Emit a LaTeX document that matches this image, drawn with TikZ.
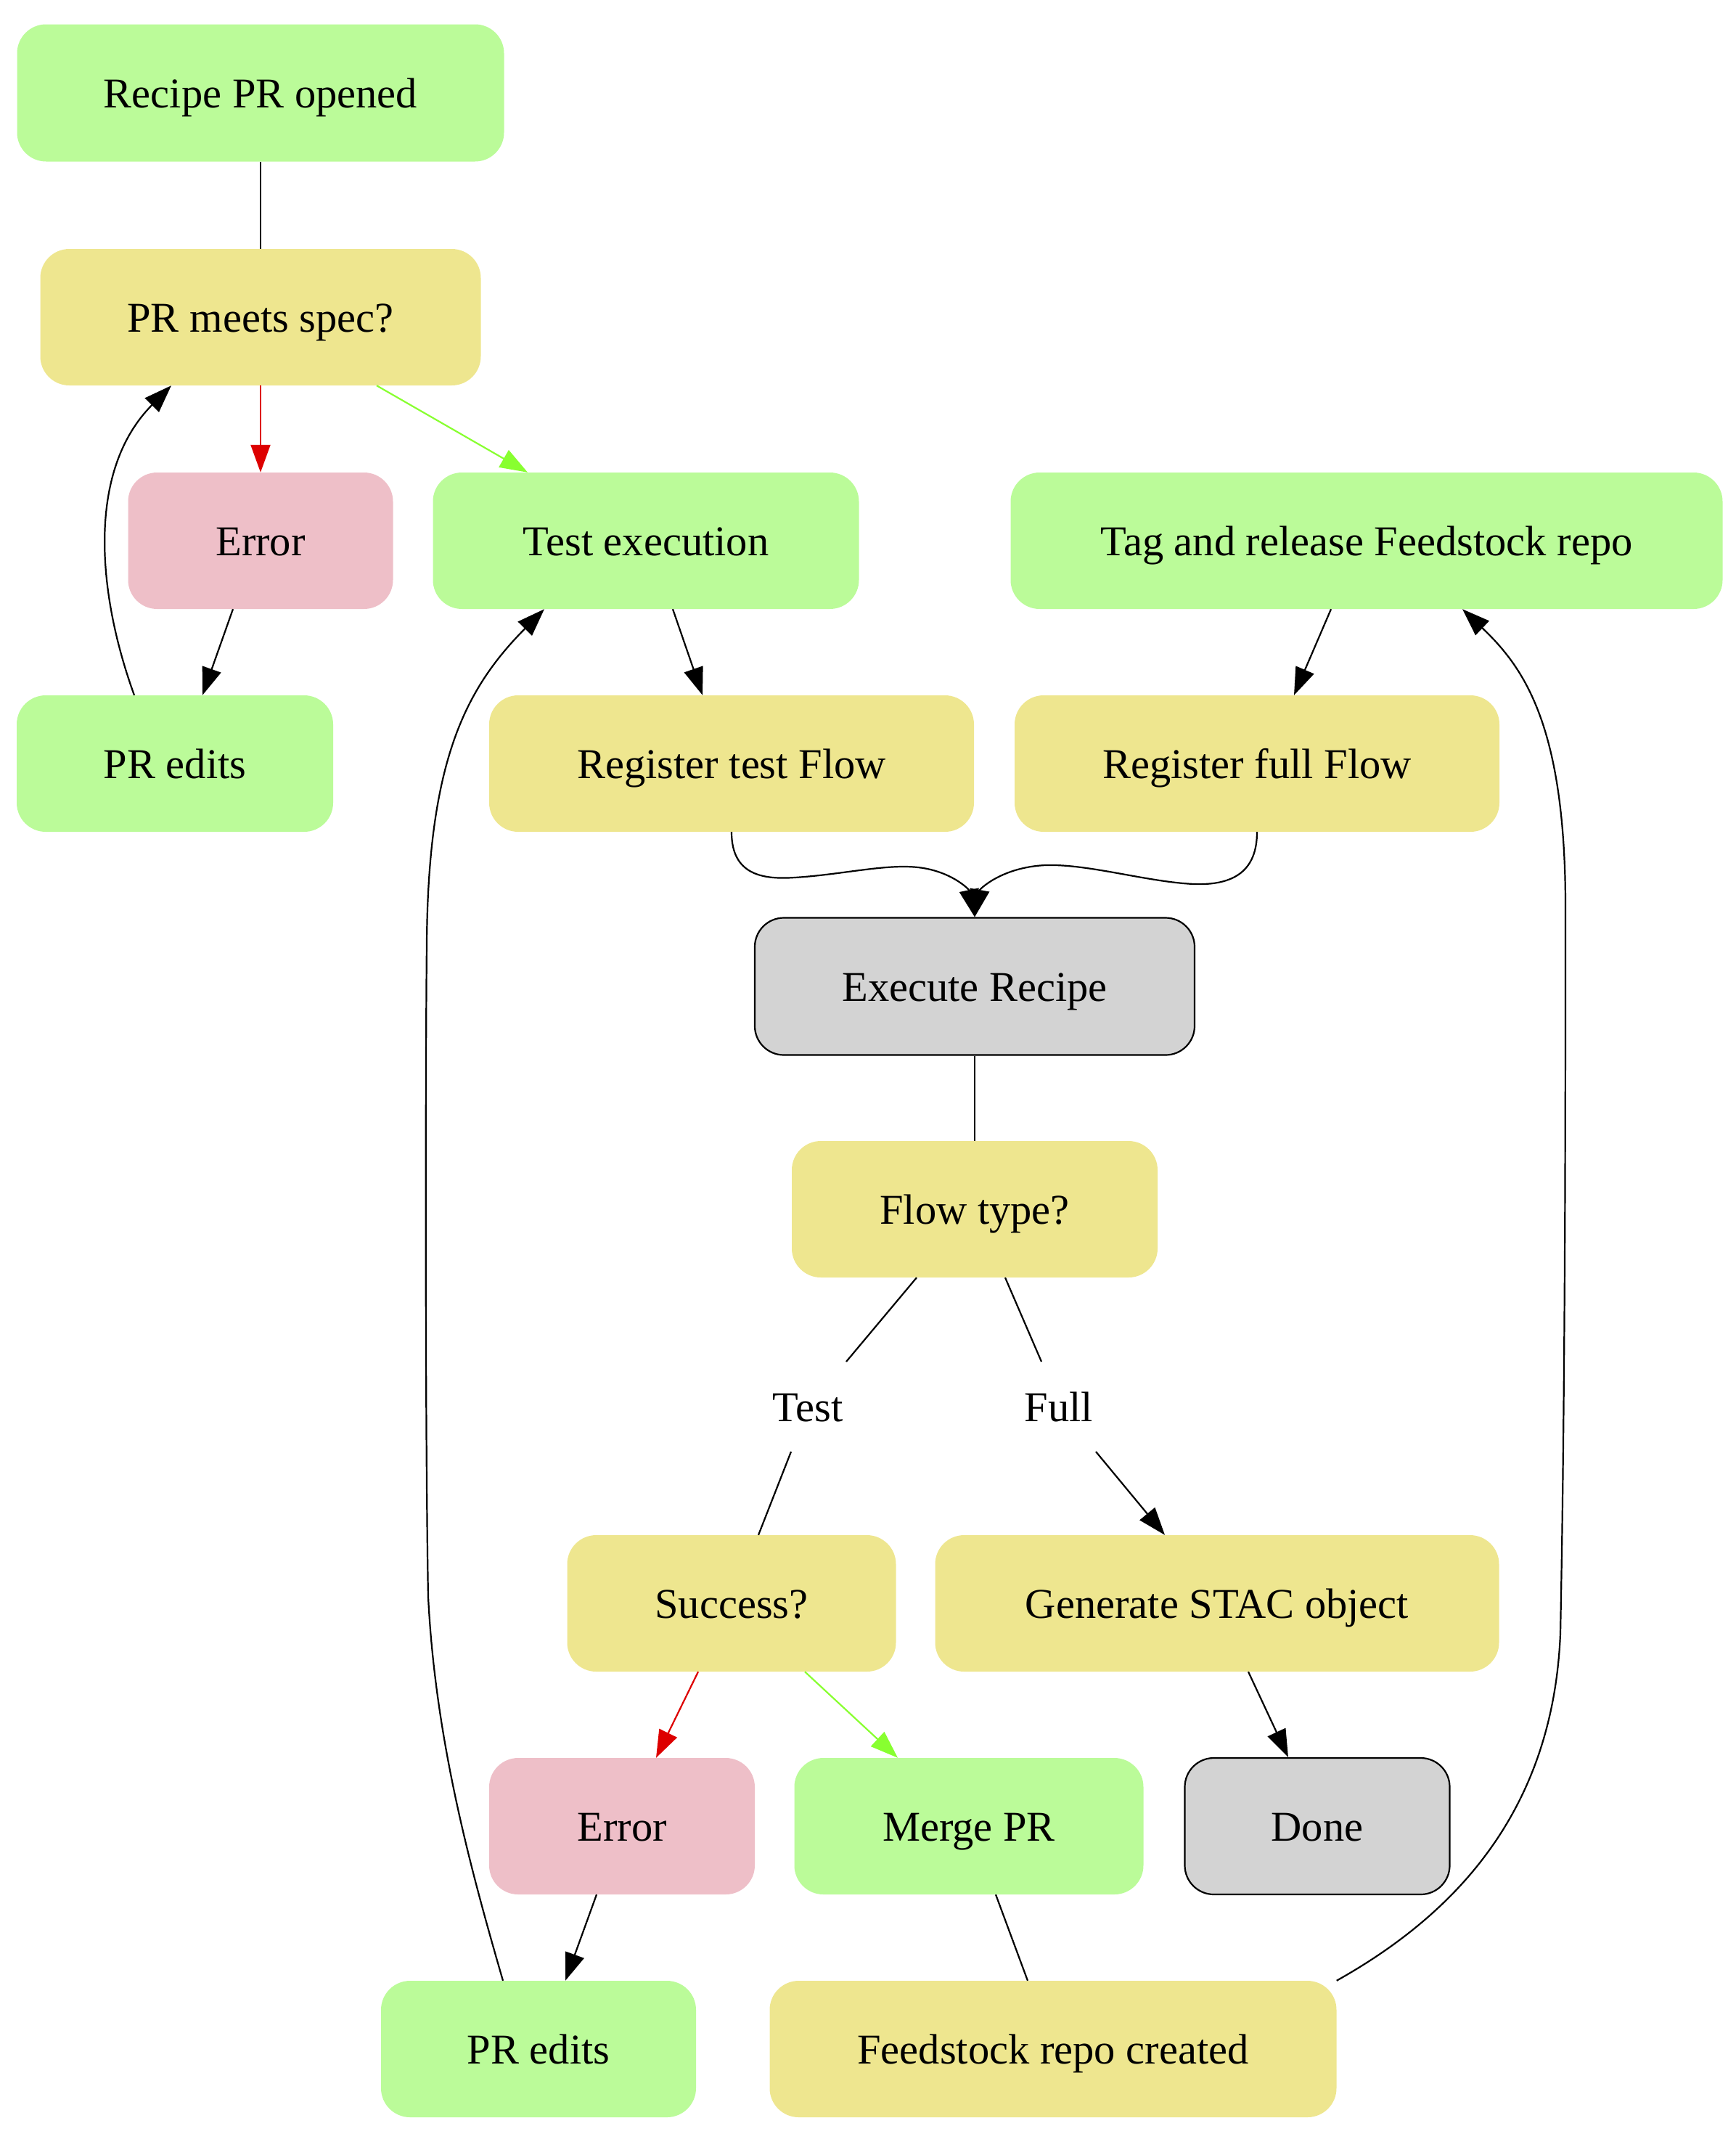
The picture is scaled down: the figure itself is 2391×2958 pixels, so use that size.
\documentclass[tikz,border=0pt]{standalone}
\usepackage{fontspec}
\setmainfont{Liberation Serif}
\usetikzlibrary{arrows.meta}
\definecolor{gfill}{HTML}{BBFB99}
\definecolor{yfill}{HTML}{EEE68F}
\definecolor{pfill}{HTML}{EEBFC8}
\definecolor{dfill}{HTML}{D3D3D3}
\definecolor{redge}{HTML}{DD0000}
\definecolor{gedge}{HTML}{88FF30}
\tikzset{
  box/.style={rounded corners=40pt, inner sep=0pt, minimum height=188pt, text height=48pt, text depth=8pt, font=\fontsize{58.5}{70}\selectfont},
  gbox/.style={box, fill=gfill},
  ybox/.style={box, fill=yfill},
  pbox/.style={box, fill=pfill},
  dbox/.style={box, fill=dfill, draw=black, line width=2.2pt},
  lbl/.style={inner sep=0pt, text height=48pt, text depth=8pt, font=\fontsize{58.5}{70}\selectfont},
  edge/.style={line width=2.2pt, black},
  arr/.style={edge, -{Triangle[length=38pt,width=27pt]}},
  redarr/.style={arr, draw=redge, fill=redge},
  grnarr/.style={arr, draw=gedge, fill=gedge},
}
\begin{document}
\begin{tikzpicture}[x=1pt,y=-1pt]
\useasboundingbox (0,0) rectangle (2391,2958);
\node[gbox, minimum width=671pt, minimum height=189pt] (n1) at (359,128) {Recipe PR opened};
\node[ybox, minimum width=607pt] (n2) at (359,437) {PR meets spec?};
\node[pbox, minimum width=365pt] (n3) at (359,745) {Error};
\node[gbox, minimum width=587pt] (n4) at (890,745) {Test execution};
\node[gbox, minimum width=981pt] (n5) at (1883,745) {Tag and release Feedstock repo};
\node[gbox, minimum width=436pt] (n6) at (241,1052) {PR edits};
\node[ybox, minimum width=668pt] (n7) at (1008,1052) {Register test Flow};
\node[ybox, minimum width=668pt] (n8) at (1732,1052) {Register full Flow};
\node[dbox, minimum width=606pt, minimum height=189pt] (n9) at (1343,1359) {Execute Recipe};
\node[ybox, minimum width=504pt] (n10) at (1343,1666) {Flow type?};
\node[lbl] (lt) at (1113,1938) {Test};
\node[lbl] (lf) at (1459,1938) {Full};
\node[ybox, minimum width=453pt] (n12) at (1008,2209) {Success?};
\node[ybox, minimum width=777pt] (n13) at (1677,2209) {Generate STAC object};
\node[pbox, minimum width=366pt] (n14) at (857,2516) {Error};
\node[gbox, minimum width=481pt] (n15) at (1335,2516) {Merge PR};
\node[dbox, minimum width=365pt] (n16) at (1815,2516) {Done};
\node[gbox, minimum width=434pt] (n17) at (742,2823) {PR edits};
\node[ybox, minimum width=781pt] (n18) at (1451,2823) {Feedstock repo created};

\draw[edge] (n1.south) -- (n2.north);
\draw[redarr] (n2.south) -- (n3.north);
\draw[grnarr] ([xshift=160pt]n2.south) -- ([xshift=-163pt]n4.north);
\draw[arr] ([xshift=-38pt]n3.south) -- ([xshift=38pt]n6.north);
\draw[arr] ([xshift=-56pt]n6.north) .. controls (135,820) and (118,650) .. ([xshift=-123pt]n2.south);
\draw[arr] ([xshift=37pt]n4.south) -- ([xshift=-40pt]n7.north);
\draw[arr] ([xshift=-49pt]n5.south) -- ([xshift=51pt]n8.north);
\draw[arr] (n7.south) .. controls (1008,1205) and (1050,1212) .. (1095,1209)
  .. controls (1160,1205) and (1220,1190) .. (1265,1195)
  .. controls (1310,1200) and (1335,1225) .. (n9.north);
\draw[arr] (n8.south) .. controls (1732,1200) and (1700,1220) .. (1645,1218)
  .. controls (1580,1215) and (1500,1190) .. (1440,1192)
  .. controls (1380,1195) and (1350,1225) .. (n9.north);
\draw[edge] (n9.south) -- (n10.north);
\draw[edge] ([xshift=-80pt]n10.south) -- ([shift={(53,-62)}]lt.center);
\draw[edge] ([shift={(-23,62)}]lt.center) -- ([xshift=37pt]n12.north);
\draw[edge] ([xshift=42pt]n10.south) -- ([shift={(-24,-62)}]lf.center);
\draw[arr] ([shift={(51,62)}]lf.center) -- ([xshift=-72pt]n13.north);
\draw[redarr] ([xshift=-46pt]n12.south) -- ([xshift=47pt]n14.north);
\draw[grnarr] ([xshift=101pt]n12.south) -- ([xshift=-98pt]n15.north);
\draw[arr] ([xshift=43pt]n13.south) -- ([xshift=-40pt]n16.north);
\draw[arr] ([xshift=-35pt]n14.south) -- ([xshift=37pt]n17.north);
\draw[edge] ([xshift=37pt]n15.south) -- ([xshift=-35pt]n18.north);
\draw[arr] (n18.north east) .. controls (2000,2640) and (2140,2500) .. (2150,2250)
  .. controls (2157,1900) and (2157,1500) .. (2157,1250)
  .. controls (2157,1000) and (2100,920) .. ([xshift=132pt]n5.south);
\draw[arr] ([xshift=-49pt]n17.north) .. controls (650,2580) and (600,2400) .. (590,2200)
  .. controls (586,2000) and (586,1500) .. (588,1300)
  .. controls (590,1050) and (640,950) .. ([xshift=-140pt]n4.south);
\end{tikzpicture}
\end{document}
